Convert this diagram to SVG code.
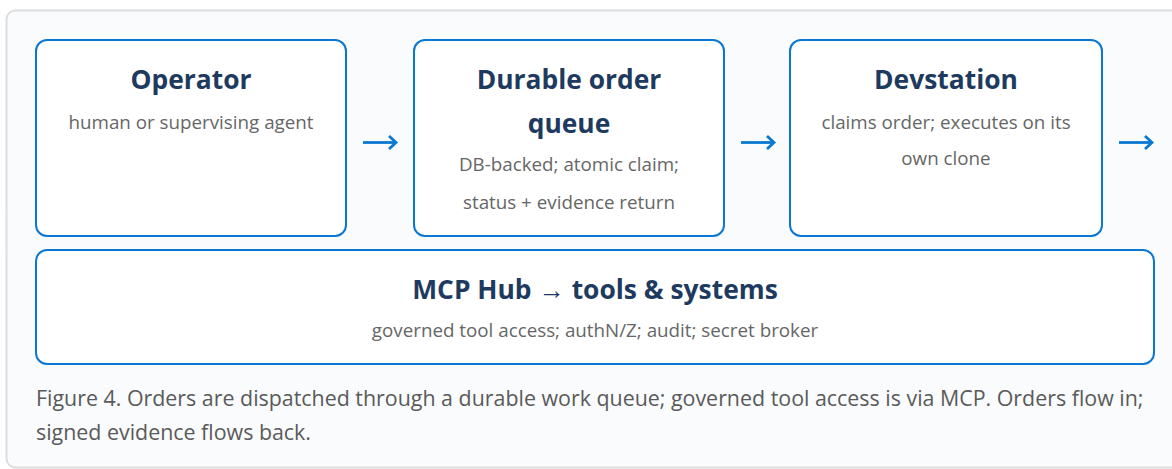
<svg xmlns="http://www.w3.org/2000/svg" width="1172" height="469" viewBox="0 0 1172 469">
<style>
.box{fill:#ffffff;stroke:#0a78d2;stroke-width:2}
.t{font-family:"Open Sans","Liberation Sans",sans-serif;font-weight:700;font-size:26.4px;fill:#1e3a5f;text-anchor:middle}
.s{font-family:"Open Sans","Liberation Sans",sans-serif;font-size:18.8px;fill:#666666;text-anchor:middle}
.c{font-family:"Open Sans","Liberation Sans",sans-serif;font-size:21.4px;fill:#5a5a5a}
.arr{fill:none;stroke:#0a78d2;stroke-width:2.8;stroke-linecap:butt}
.head{fill:none;stroke:#0a78d2;stroke-width:2.8;stroke-linejoin:miter}
</style>
<rect x="6.5" y="10.5" width="1180" height="457" rx="9" fill="#f9fbfd" stroke="#dddddd" stroke-width="2"/>
<g id="operator">
<rect class="box" x="36" y="40" width="310" height="196" rx="11"/>
<text class="t" x="191" y="89">Operator</text>
<text class="s" x="191" y="129">human or supervising agent</text>
</g>
<g id="queue">
<rect class="box" x="414" y="40" width="310" height="196" rx="11"/>
<text class="t" x="569" y="89">Durable order</text>
<text class="t" x="569" y="133">queue</text>
<text class="s" x="569" y="171">DB-backed; atomic claim;</text>
<text class="s" x="569" y="209">status + evidence return</text>
</g>
<g id="devstation">
<rect class="box" x="790" y="40" width="312" height="196" rx="11"/>
<text class="t" x="946" y="89">Devstation</text>
<text class="s" x="946" y="129">claims order; executes on its</text>
<text class="s" x="946" y="165">own clone</text>
</g>
<g id="mcphub">
<rect class="box" x="36" y="250" width="1118" height="114" rx="11"/>
<text class="t" x="595" y="299">MCP Hub → tools &amp; systems</text>
<text class="s" x="595" y="337">governed tool access; authN/Z; audit; secret broker</text>
</g>
<g id="connectors">
<path class="arr" d="M363 142.5H395"/>
<path class="head" d="M389 136L396 142.5L389 149"/>
<path class="arr" d="M741 142.5H773"/>
<path class="head" d="M767 136L774 142.5L767 149"/>
<path class="arr" d="M1119 142.5H1151"/>
<path class="head" d="M1145 136L1152 142.5L1145 149"/>
</g>
<g id="caption">
<text class="c" x="36" y="406">Figure 4. Orders are dispatched through a durable work queue; governed tool access is via MCP. Orders flow in;</text>
<text class="c" x="36" y="440">signed evidence flows back.</text>
</g>
</svg>
